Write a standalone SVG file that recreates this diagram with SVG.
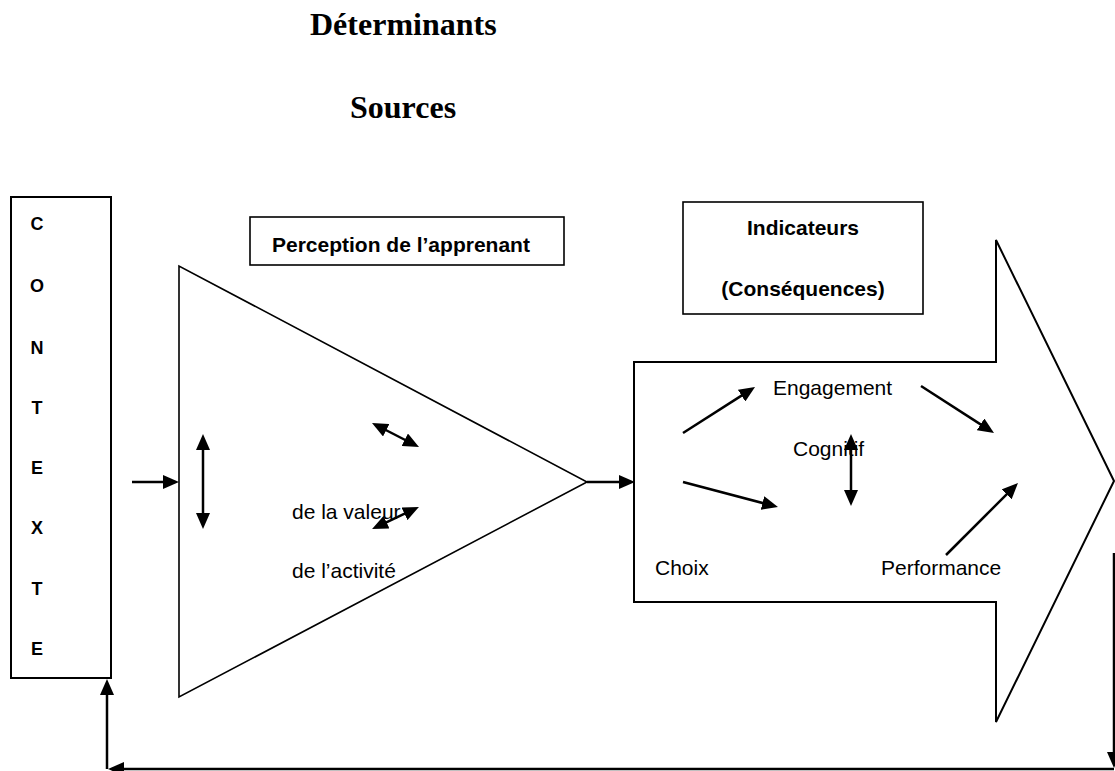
<svg xmlns="http://www.w3.org/2000/svg" width="1115" height="771" viewBox="0 0 1115 771">
<defs>
<style>
.shape{fill:#fff;stroke:#000;stroke-width:2}
.thin{fill:#fff;stroke:#000;stroke-width:1.6}
.t{font-family:"Liberation Sans",Arial,sans-serif;font-size:21px;fill:#000}
.b{font-family:"Liberation Sans",Arial,sans-serif;font-size:21px;font-weight:bold;fill:#000}
.l{font-family:"Liberation Sans",Arial,sans-serif;font-size:18px;font-weight:bold;fill:#000;text-anchor:middle}
.h{font-family:"Liberation Serif","Times New Roman",serif;font-size:32px;font-weight:bold;fill:#000}
.c{fill:none;stroke:#000;stroke-width:2.5}
</style>
<marker id="ah" markerUnits="userSpaceOnUse" markerWidth="16" markerHeight="14" refX="6" refY="7" orient="auto-start-reverse" viewBox="0 0 16 14">
<path d="M0,0 L16,7 L0,14 z" fill="#000"/>
</marker>
</defs>
<rect width="1115" height="771" fill="#fff"/>

<g id="title">
<text class="h" x="310" y="35">Déterminants</text>
<text class="h" x="350" y="118">Sources</text>
</g>

<g id="contexte">
<rect class="shape" x="11" y="197" width="100" height="481"/>
<text class="l" x="37" y="229.5">C</text>
<text class="l" x="37" y="291.5">O</text>
<text class="l" x="37" y="353.5">N</text>
<text class="l" x="37" y="413.5">T</text>
<text class="l" x="37" y="473.5">E</text>
<text class="l" x="37" y="533.5">X</text>
<text class="l" x="37" y="594.5">T</text>
<text class="l" x="37" y="654.5">E</text>
</g>

<g id="perception-label">
<rect class="thin" x="250" y="217" width="314" height="48"/>
<text class="b" x="272" y="252">Perception de l’apprenant</text>
</g>

<g id="perception-triangle">
<polygon class="thin" points="179,266 179,697 587,482"/>
<text class="t" x="292" y="519">de la valeur</text>
<text class="t" x="292" y="578">de l’activité</text>
</g>

<g id="indicateurs-label">
<rect class="thin" x="683" y="202" width="240" height="112"/>
<text class="b" x="803" y="235" text-anchor="middle">Indicateurs</text>
<text class="b" x="803" y="296" text-anchor="middle">(Conséquences)</text>
</g>

<g id="consequences-arrow">
<polygon class="shape" points="634,362 996,362 996,240 1114,481 996,722 996,602 634,602"/>
<text class="t" x="773" y="395">Engagement</text>
<text class="t" x="793" y="456">Cognitif</text>
<text class="t" x="655" y="575">Choix</text>
<text class="t" x="881" y="575">Performance</text>
</g>

<g id="connectors">
<line class="c" x1="132" y1="482" x2="169" y2="482" marker-end="url(#ah)"/>
<line class="c" x1="587" y1="482" x2="625" y2="482" marker-end="url(#ah)"/>
<line class="c" x1="203" y1="444" x2="203" y2="519" marker-start="url(#ah)" marker-end="url(#ah)"/>
<line class="c" x1="380.9" y1="427.5" x2="410.1" y2="442.5" marker-start="url(#ah)" marker-end="url(#ah)"/>
<line class="c" x1="381.1" y1="524.8" x2="409.9" y2="511.2" marker-start="url(#ah)" marker-end="url(#ah)"/>
<line class="c" x1="683" y1="433" x2="746.6" y2="392.4" marker-end="url(#ah)"/>
<line class="c" x1="683" y1="482" x2="768.3" y2="504.5" marker-end="url(#ah)"/>
<line class="c" x1="921" y1="386" x2="985.6" y2="427.6" marker-end="url(#ah)"/>
<line class="c" x1="946" y1="555" x2="1010.9" y2="490.1" marker-end="url(#ah)"/>
<line class="c" x1="851" y1="444" x2="851" y2="496" marker-start="url(#ah)" marker-end="url(#ah)"/>
<line class="c" x1="1114" y1="553" x2="1114" y2="758" marker-end="url(#ah)"/>
<line class="c" x1="1114" y1="769" x2="118" y2="769" marker-end="url(#ah)"/>
<line class="c" x1="107" y1="769" x2="107" y2="689" marker-end="url(#ah)"/>
</g>
</svg>
